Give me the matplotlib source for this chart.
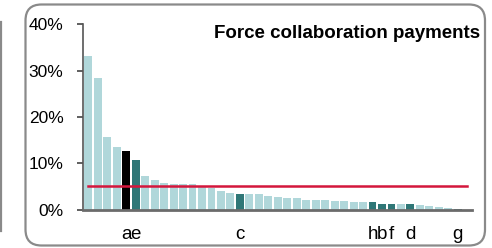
import numpy as np
import matplotlib.pyplot as plt
from matplotlib.patches import FancyBboxPatch

plt.rcParams['font.family'] = ['Liberation Sans', 'DejaVu Sans']

# Data (% share, sorted)
values = [33.1, 28.4, 15.6, 13.5, 12.6, 10.6, 7.3, 6.3, 5.8, 5.6,
          5.6, 5.4, 5.0, 4.7, 4.1, 3.6, 3.4, 3.35, 3.35, 2.9,
          2.6, 2.4, 2.4, 2.1, 2.0, 2.0, 1.85, 1.8, 1.65, 1.65,
          1.65, 1.25, 1.25, 1.25, 1.1, 0.95, 0.85, 0.5, 0.4, 0.15]
labels = [''] * 40
labels[4] = 'a'
labels[5] = 'e'
labels[16] = 'c'
labels[30] = 'h'
labels[31] = 'b'
labels[32] = 'f'
labels[34] = 'd'
labels[39] = 'g'
highlight = [5, 16, 30, 31, 32, 34, 39]   # dark teal bars
black_bar = 4
average = 5.1
yticks = [0, 10, 20, 30, 40]
title = 'Force collaboration payments'

light = '#b0d7da'
dark = '#2f7777'
colors = [light] * len(values)
for i in highlight:
    colors[i] = dark
colors[black_bar] = 'black'

fig = plt.figure(figsize=(4.92, 2.48), dpi=100)

# background axes in pixel units for the frame
bg = fig.add_axes([0, 0, 1, 1])
bg.set_xlim(0, 492)
bg.set_ylim(0, 248)
bg.axis('off')
box = FancyBboxPatch((25.5, 2.5), 459.5, 241, boxstyle='round,pad=0,rounding_size=16',
                     fill=False, edgecolor='#8a8a8a', linewidth=1.6)
bg.add_patch(box)
bg.plot([1.2, 1.2], [17, 226], color='#8a8a8a', linewidth=1.6)
bg.text(480, 209.5, title, ha='right', va='baseline', fontsize=13.5, fontweight='bold')

ax = fig.add_axes([83 / 492, 1 - 209.5 / 248, 389 / 492, 185.2 / 248])
x = np.arange(len(values))
ax.bar(x, values, width=0.83, color=colors)
ax.plot([0, len(values)], [average, average], color='#d4163c', linewidth=1.8)

ax.set_xlim(-0.56, 40.5)
ax.set_ylim(0, 40)
ax.set_yticks(yticks)
ax.set_yticklabels([f'{t}%' for t in yticks])
ax.set_xticks(x)
ax.set_xticklabels(labels)
ax.tick_params(axis='x', length=0, pad=12, labelsize=13.5)
ax.tick_params(axis='y', length=4, width=1.2, color='#444444', pad=10, labelsize=12.5)

for s in ['top', 'right']:
    ax.spines[s].set_visible(False)
ax.spines['left'].set_color('#555555')
ax.spines['left'].set_linewidth(1.2)
ax.spines['bottom'].set_color('#6b6b6b')
ax.spines['bottom'].set_linewidth(2)
ax.patch.set_alpha(0)

plt.savefig('out.png', dpi=100)
